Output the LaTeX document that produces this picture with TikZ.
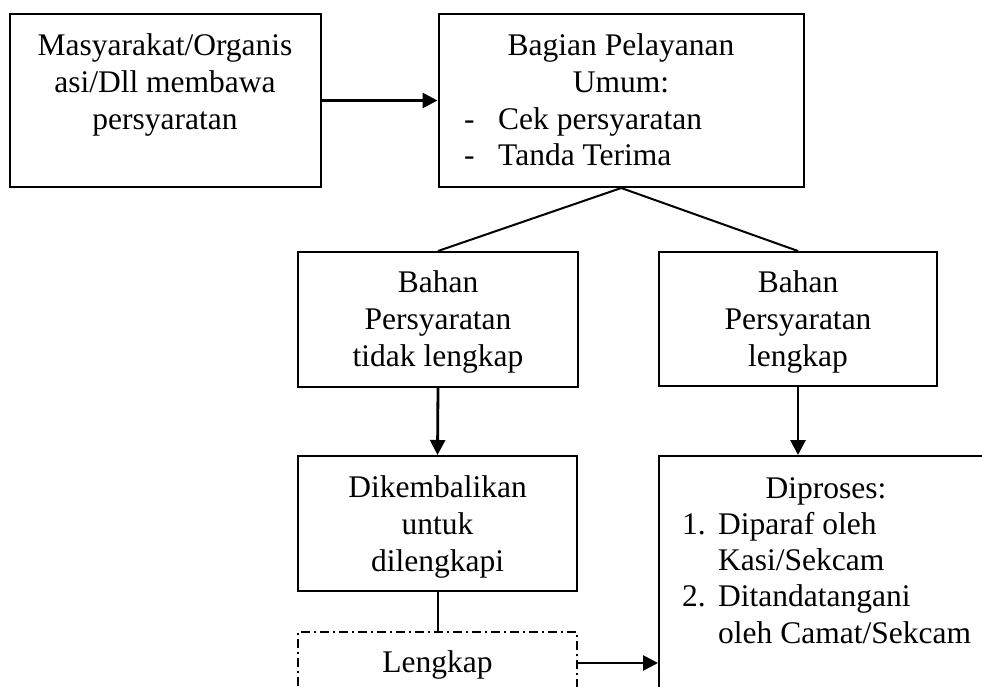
\documentclass[tikz,border=0pt]{standalone}
\usepackage{fontspec}
\setmainfont{Liberation Serif}
\usetikzlibrary{arrows.meta}

\tikzset{
  box/.style={draw, line width=2pt, inner sep=0pt, minimum width=#1},
  dashbox/.style={draw, line width=1.8pt, inner sep=0pt,
    dash pattern=on 9pt off 4pt on 2pt off 4pt, minimum width=#1},
  txt/.style={inner sep=0pt, align=center, font=\fontsize{31.5}{37}\selectfont},
  ltxt/.style={inner sep=0pt, align=left, font=\fontsize{31.5}{36.3}\selectfont},
  arr/.style={line width=2.8pt, -{Triangle[length=15pt,width=15pt]}},
  link/.style={line width=2pt},
}

\begin{document}
\begin{tikzpicture}[x=1pt, y=-1pt]
  \useasboundingbox (0,0) rectangle (982,686);
  \clip (0,0) rectangle (982,686);

  % boxes
  \node[box=311pt, minimum height=173pt] (A) at (165,100.5) {};
  \node[box=365.5pt, minimum height=173pt] (B) at (621.25,100.5) {};
  \node[box=280pt, minimum height=135pt] (L) at (438,319.5) {};
  \node[box=278pt, minimum height=134pt] (R) at (798,319) {};
  \node[box=279pt, minimum height=135pt] (D) at (437.5,523.5) {};
  \node[dashbox=279pt, minimum height=62pt] (E) at (437.5,663) {};
  \node[box=334pt, minimum height=304pt] (P) at (826,608) {};

  % texts
  \node[txt, anchor=north] (At) at (165,29)
    {\strut Masyarakat/Organis\\asi/Dll membawa\\persyaratan};
  \node[txt, anchor=north] (Bt) at (621,29)
    {\strut Bagian Pelayanan\\Umum:};
  \node[ltxt, anchor=north west] (Bl) at (464,104)
    {\strut\makebox[34pt][l]{-}Cek persyaratan\\\makebox[34pt][l]{-}Tanda Terima};
  \node[txt, anchor=north] (Lt) at (438,266)
    {\strut Bahan\\Persyaratan\\tidak lengkap};
  \node[txt, anchor=north] (Rt) at (798,266)
    {\strut Bahan\\Persyaratan\\lengkap};
  \node[txt, anchor=north] (Dt) at (437.5,471)
    {\strut Dikembalikan\\untuk\\dilengkapi};
  \node[txt, anchor=base] (Et) at (437.5,672) {Lengkap};
  \node[txt, anchor=base] (Pt) at (826,498) {Diproses:};
  \node[ltxt, anchor=north west] (Pl) at (682,508.6)
    {\strut\makebox[36pt][l]{1.}Diparaf oleh\\
     \hspace*{36pt}Kasi/Sekcam\\
     \makebox[36pt][l]{2.}Ditandatangani\\
     \hspace*{36pt}oleh Camat/Sekcam};

  % connectors
  \draw[arr] (A.east) -- (B.west);
  \draw[link] (B.south) -- (L.north);
  \draw[link] (B.south) -- (R.north);
  \draw[arr] (L.south) -- (D.north);
  \draw[arr] (R.south) -- (R.south |- P.north);
  \draw[link] (D.south) -- (E.north);
  \draw[arr] (E.east) -- (E.east -| P.west);
\end{tikzpicture}
\end{document}
